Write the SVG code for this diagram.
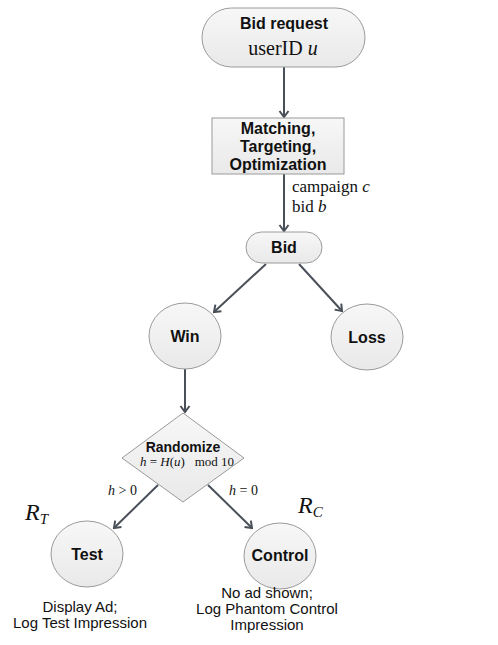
<svg xmlns="http://www.w3.org/2000/svg" width="498" height="645" viewBox="0 0 498 645">
<style>
.node{fill:url(#g);stroke:#9a9a9a;stroke-width:1}
.b{font-family:"Liberation Sans",Arial,sans-serif;font-weight:bold;fill:#111;text-anchor:middle}
.s{font-family:"Liberation Serif","Times New Roman",serif;fill:#111}
.n{font-family:"Liberation Sans",Arial,sans-serif;fill:#111;text-anchor:middle;font-size:15px}
.c{stroke:#4a5058;stroke-width:2;fill:none;marker-end:url(#a)}
</style>
<defs>
<linearGradient id="g" x1="0" y1="0" x2="0" y2="1">
<stop offset="0" stop-color="#f7f7f7"/>
<stop offset="1" stop-color="#e9e9e9"/>
</linearGradient>
<marker id="a" viewBox="0 0 12 12" refX="10" refY="6" markerWidth="12" markerHeight="12" markerUnits="userSpaceOnUse" orient="auto">
<path d="M4,1.5 L10,6 L4,10.5" fill="none" stroke="#4a5058" stroke-width="2"/>
</marker>
</defs>
<g id="connectors">
<line class="c" x1="284" y1="67" x2="284" y2="117"/>
<line class="c" x1="284" y1="174" x2="284" y2="231"/>
<line class="c" x1="266" y1="264" x2="214" y2="312"/>
<line class="c" x1="299" y1="264" x2="342" y2="311"/>
<line class="c" x1="185" y1="369" x2="185" y2="412"/>
<line class="c" x1="158" y1="485" x2="114" y2="528"/>
<line class="c" x1="208" y1="485" x2="252" y2="528"/>
</g>
<g id="bid-request">
<rect class="node" x="202" y="8" width="163" height="59" rx="29.5"/>
<text class="b" x="284" y="29" font-size="16">Bid request</text>
<text class="s" x="283" y="55" font-size="20" text-anchor="middle">userID <tspan font-style="italic">u</tspan></text>
</g>
<g id="matching">
<rect class="node" x="212" y="118" width="132" height="56"/>
<text class="b" x="278" y="134" font-size="16">Matching,</text>
<text class="b" x="278" y="152" font-size="16">Targeting,</text>
<text class="b" x="278" y="170" font-size="16">Optimization</text>
</g>
<g id="edge-label-campaign">
<text class="s" x="292" y="192" font-size="17">campaign <tspan font-style="italic">c</tspan></text>
<text class="s" x="292" y="212" font-size="17">bid <tspan font-style="italic">b</tspan></text>
</g>
<g id="bid">
<rect class="node" x="246" y="232" width="76" height="31" rx="15.5"/>
<text class="b" x="284" y="253" font-size="16">Bid</text>
</g>
<g id="win">
<ellipse class="node" cx="185" cy="336" rx="36" ry="33"/>
<text class="b" x="185" y="342" font-size="16">Win</text>
</g>
<g id="loss">
<ellipse class="node" cx="367" cy="337" rx="36" ry="33"/>
<text class="b" x="367" y="343" font-size="16">Loss</text>
</g>
<g id="randomize">
<polygon class="node" points="183,413 244,458 183,502 122,458"/>
<text class="b" x="183" y="452" font-size="14">Randomize</text>
<text class="s" x="187" y="466" font-size="13" text-anchor="middle" xml:space="preserve"><tspan font-style="italic">h</tspan> = <tspan font-style="italic">H</tspan>(<tspan font-style="italic">u</tspan>)   mod 10</text>
</g>
<g id="edge-labels-h">
<text class="s" x="108" y="495" font-size="14"><tspan font-style="italic">h</tspan> &gt; 0</text>
<text class="s" x="229" y="495" font-size="14"><tspan font-style="italic">h</tspan> = 0</text>
</g>
<g id="test">
<ellipse class="node" cx="87" cy="554" rx="36" ry="33"/>
<text class="b" x="87" y="560" font-size="16">Test</text>
<text class="s" x="25" y="520" font-size="24" font-style="italic">R<tspan font-size="15" dy="4">T</tspan></text>
<text class="n" x="80" y="612">Display Ad;</text>
<text class="n" x="80" y="628">Log Test Impression</text>
</g>
<g id="control">
<ellipse class="node" cx="280" cy="556" rx="36" ry="33"/>
<text class="b" x="280" y="561" font-size="16">Control</text>
<text class="s" x="298" y="513" font-size="24" font-style="italic">R<tspan font-size="15" dy="4">C</tspan></text>
<text class="n" x="267" y="598">No ad shown;</text>
<text class="n" x="267" y="614">Log Phantom Control</text>
<text class="n" x="267" y="630">Impression</text>
</g>
</svg>
